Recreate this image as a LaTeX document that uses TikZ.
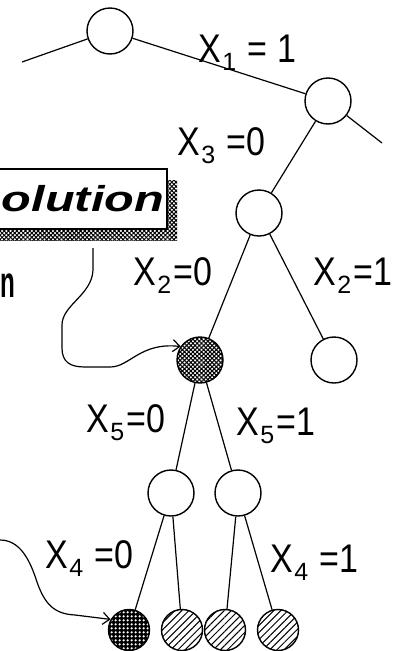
\documentclass[tikz,border=0pt]{standalone}
\usepackage{fontspec}
\setmainfont{Liberation Sans}
\newfontfamily\labfont[FakeStretch=0.85]{Liberation Sans}
\newfontfamily\boxfont[FakeStretch=1.35]{Liberation Sans}
\newfontfamily\nfont[FakeStretch=0.55]{Liberation Sans Bold}
\usetikzlibrary{patterns,patterns.meta,arrows.meta}
\newcommand\subs[1]{\kern1.5pt\raisebox{-8pt}{\normalfont\fontsize{25}{25}\selectfont #1}\kern2pt\relax}
\begin{document}
\begin{tikzpicture}[x=1pt,y=-1pt,
  lab/.style={anchor=base west, inner sep=0pt, font=\labfont\fontsize{40}{40}\selectfont},
  vtx/.style={circle, draw, line width=1.4pt, minimum size=46pt, inner sep=0pt, fill=white},
  leaf/.style={circle, draw, line width=1.4pt, minimum size=41pt, inner sep=0pt},
  hatchleaf/.style={leaf, pattern={Lines[angle=45,distance=5pt,line width=1pt]}},
  dither/.style={pattern={Hatch[angle=45,distance=3pt,line width=1pt]}},
  edge/.style={line width=1.2pt},
  arr/.style={line width=1.2pt, -{Straight Barb[length=7pt,width=12pt,line width=1.2pt]}}
]
\useasboundingbox (0,0) rectangle (397,651);
\begin{scope}
\clip (0,0) rectangle (397,651);
% tree nodes
\node[vtx] (t) at (110,31) {};
\node[vtx] (n2) at (328,101) {};
\node[vtx] (n3) at (259,213) {};
\node[vtx, dither] (s) at (200,360) {};
\node[vtx] (r) at (334,360) {};
\node[vtx] (a) at (171,493) {};
\node[vtx] (b) at (238,493) {};
\node[leaf, preaction={fill=black}, pattern={Dots[distance=4pt,radius=1.5pt]}, pattern color=white] (l1) at (129,630) {};
\node[hatchleaf] (l2) at (182,630) {};
\node[hatchleaf] (l3) at (225,630) {};
\node[hatchleaf] (l4) at (278,630) {};
\coordinate (c0) at (22,62);
\coordinate (c1) at (382,143);
% edges
\draw[edge] (c0) -- (t);
\draw[edge] (t) -- (n2);
\draw[edge] (n2) -- (c1);
\draw[edge] (n2) -- (n3);
\draw[edge] (n3) -- (s);
\draw[edge] (n3) -- (r);
\draw[edge] (s) -- (a);
\draw[edge] (s) -- (b);
\draw[edge] (a) -- (l1);
\draw[edge] (a) -- (l2);
\draw[edge] (b) -- (l3);
\draw[edge] (b) -- (l4);
% labels
\node[lab] (x1) at (198,62) {X\subs{1} = 1};
\node[lab] (x3) at (177,155) {X\subs{3} =0};
\node[lab] (x20) at (133,285) {X\subs{2}=0};
\node[lab] (x21) at (313,285) {X\subs{2}=1};
\node[lab] (x50) at (86,432) {X\subs{5}=0};
\node[lab] (x51) at (236,435) {X\subs{5}=1};
\node[lab] (x40) at (45,568) {X\subs{4} =0};
\node[lab] (x41) at (270,572) {X\subs{4} =1};
% box with shadow
\fill[dither] (0,180) rectangle (177,240);
\node[draw, line width=1.8pt, fill=white, anchor=north west, minimum width=171pt, minimum height=60pt,
      text width=165pt, align=right, inner sep=3pt,
      font=\boxfont\bfseries\itshape\fontsize{36}{36}\selectfont] (box) at (-5,168) {olution};
\node[anchor=base east, inner sep=0pt, font=\nfont\fontsize{44}{44}\selectfont] (nn) at (15,297) {n};
% curved arrows
\coordinate (a1) at (93,248);
\draw[arr] (a1) -- (93,270) .. controls (92,295) and (62,305) .. (62,325) -- (62,348)
   .. controls (62,362) and (70,367) .. (85,367) -- (110,367)
   .. controls (130,367) and (140,342) .. (s.145);
\coordinate (b1) at (0,540);
\draw[arr] (b1) .. controls (20,540) and (30,560) .. (37,582)
   .. controls (45,605) and (55,614) .. (75,615) -- (l1.150);
\end{scope}
\end{tikzpicture}
\end{document}
